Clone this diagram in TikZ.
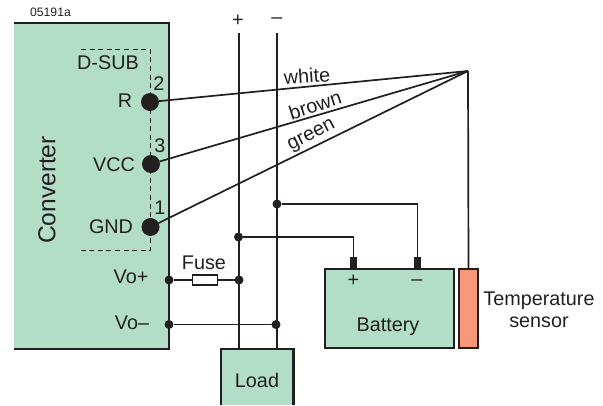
\documentclass[tikz,border=0pt]{standalone}
\usepackage{fontspec}
\setmainfont{Liberation Sans}
\usepackage{tikz}
\usetikzlibrary{calc,
                positioning}
\definecolor{panel}{HTML}{B2DDC7}
\definecolor{sensorfill}{HTML}{F79679}
\definecolor{ink}{HTML}{231F20}
\tikzstyle{box} = [rectangle, inner sep=0pt, outer sep=0pt, fill=panel]
\tikzstyle{pin} = [circle, inner sep=0pt, outer sep=0pt, minimum size=18pt, fill=ink]
\tikzstyle{dot} = [circle, inner sep=0pt, outer sep=0pt, minimum size=9pt, fill=ink]
\tikzstyle{lbl} = [inner sep=0pt, text=ink, font=\fontsize{19.8}{22}\selectfont]
\tikzstyle{wire} = [line width=1.7pt, draw=ink]
\tikzstyle{bus} = [line width=2.5pt, draw=ink]
\begin{document}
\begin{tikzpicture}[x=1pt,y=-1pt]
\useasboundingbox (0,0) rectangle (603,405);
% boxes
\node[box, minimum width=155pt, minimum height=326pt] (conv) at (91.5,186) {};
\node[box, minimum width=72.5pt, minimum height=56pt] (load) at (257.25,377) {};
\node[box, draw=ink, line width=1.7pt, minimum width=129pt, minimum height=79pt] (batt) at (389.5,308.5) {};
\node[box, draw=ink, line width=1.7pt, fill=sensorfill, minimum width=19pt, minimum height=79pt] (sensor) at (468.5,308.5) {};
\node[fill=ink, inner sep=0pt, minimum width=7pt, minimum height=12pt] (termp) at (353.5,263) {};
\node[fill=ink, inner sep=0pt, minimum width=7pt, minimum height=12pt] (termm) at (417.5,263) {};
\draw[bus] (conv.north west) -- (conv.north east) -- (conv.south east) -- (conv.south west);
\draw[bus] (load.south west) -- (load.north west) -- (load.north east) -- (load.south east);
% connector
\draw[wire, line width=1.4pt, dash pattern=on 5pt off 3.6pt] (81,49.5) -- (150.5,49.5) -- (150.5,250.5) -- (79,250.5);
\node[pin] (pinr) at (150,102) {};
\node[pin] (pinv) at (151,164) {};
\node[pin] (ping) at (150.5,227) {};
% supply lines
\coordinate (ptop) at (239,33);
\coordinate (mtop) at (277,33);
\coordinate (pbot) at (239,349);
\coordinate (mbot) at (277,349);
\draw[bus] (ptop) -- (pbot);
\draw[bus] (mtop) -- (mbot);
\node[dot] (jm) at (277,204) {};
\node[dot] (jp) at (238.5,237) {};
\node[dot] (vpa) at (169,280) {};
\node[dot] (vpb) at (239,280) {};
\node[dot] (vma) at (169,324.5) {};
\node[dot] (vmb) at (276,324.5) {};
\draw[wire] (jm) -| (termm.north);
\draw[wire] (jp) -| (termp.north);
\draw[wire] (vpa) -- (vpb);
\draw[wire] (vma) -- (vmb);
\node[draw=ink, fill=white, line width=1.2pt, inner sep=0pt, minimum width=25.5pt, minimum height=10pt] (fuse) at (205,280) {};
% sense wires
\coordinate (hub) at (468,71);
\draw[wire] (pinr) -- (hub);
\draw[wire] (pinv) -- (hub);
\draw[wire] (ping) -- (hub);
\draw[wire] (hub) -- (sensor.north);
% labels
\node[lbl, font=\fontsize{12.2}{14}\selectfont] (code) at (50.5,12) {05191a};
\node[lbl] (lplus) at (238,21) {+};
\node[lbl] (lminus) at (277,21) {--};
\node[lbl] (dsub) at (108,63) {D-SUB};
\node[lbl] (ltwo) at (159,84) {2};
\node[lbl] (lr) at (125,101) {R};
\node[lbl] (lthree) at (160,146) {3};
\node[lbl] (lvcc) at (114,165) {VCC};
\node[lbl] (lone) at (160,208) {1};
\node[lbl] (lgnd) at (111,227) {GND};
\node[lbl, rotate=90, font=\fontsize{24.5}{28}\selectfont] (lconv) at (47,190) {Converter};
\node[lbl] (lvp) at (131,277) {Vo+};
\node[lbl] (lvm) at (132,323) {Vo--};
\node[lbl] (lfuse) at (204,263) {Fuse};
\node[lbl] (lload) at (257,380) {Load};
\node[lbl] (lbatt) at (388,327) {Battery};
\node[lbl] (lbp) at (353.5,281) {+};
\node[lbl] (lbm) at (417,283) {--};
\node[lbl, align=center] (lsens) at (539,309.5) {Temperature\\sensor};
\node[lbl, rotate=4] (lwhite) at (307,76) {white};
\node[lbl, rotate=18] (lbrown) at (315,105) {brown};
\node[lbl, rotate=27] (lgreen) at (312,136) {green};
\end{tikzpicture}
\end{document}
